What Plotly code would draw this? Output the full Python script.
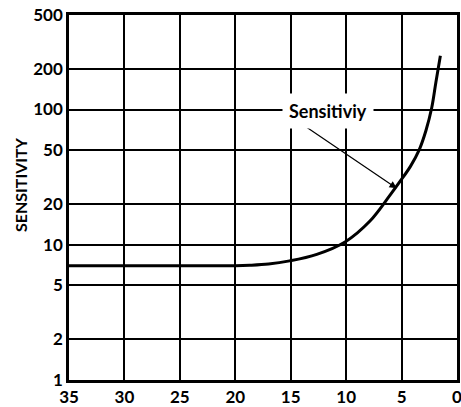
import plotly.graph_objects as go
import numpy as np

# Data
distance = [35, 30, 25, 20, 18.7, 17, 15.1, 12.65, 10.1, 7.85, 6.04, 5.14, 4.2, 3.4, 2.8, 2.28, 1.9, 1.5]
sensitivity = [7, 7, 7, 7, 7.05, 7.2, 7.6, 8.5, 10.5, 15, 23.3, 29.4, 38, 50.6, 70, 103, 160, 250]

x_ticks = [35, 30, 25, 20, 15, 10, 5, 0]
y_ticks = [1, 2, 5, 10, 20, 50, 100, 200, 500]
y_tick_text = ["1", "2", "5", "10", "20", "50", "100", "200", "500"]

FONT = "Lato"
L, R, T, B = 69, 4, 15, 27
W, H = 461, 407
plot_w = W - L - R
plot_h = H - T - B

fig = go.Figure()
fig.add_trace(go.Scatter(
    x=distance, y=sensitivity, mode="lines",
    line=dict(color="black", width=3, shape="spline", smoothing=1.0),
    hoverinfo="skip", showlegend=False,
))

fig.update_xaxes(
    range=[35, 0], tickvals=x_ticks, ticktext=[str(v) for v in x_ticks],
    showgrid=True, gridcolor="black", gridwidth=2,
    showline=True, linecolor="black", linewidth=2.5, mirror=True,
    zeroline=False, ticks="", ticklen=0, automargin=False,
    ticklabelstandoff=0, ticklabeloverflow="allow",
    tickfont=dict(family=FONT, size=17, color="black", weight="bold"),
)
fig.update_yaxes(
    type="log", range=[0, np.log10(500)],
    tickvals=y_ticks, ticktext=y_tick_text,
    showgrid=True, gridcolor="black", gridwidth=2,
    showline=True, linecolor="black", linewidth=2.5, mirror=True,
    zeroline=False, ticks="", ticklen=0, automargin=False,
    ticklabeloverflow="allow",
    tickfont=dict(family=FONT, size=17, color="black", weight="bold"),
)

# Arrow (no text)
fig.add_annotation(
    x=5.44, y=np.log10(26.2), xref="x", yref="y",
    ax=13.9, ay=1.888, axref="x", ayref="y",
    text="", showarrow=True, arrowhead=2, arrowsize=1.2, arrowwidth=1.2,
    arrowcolor="black",
)
# Label
fig.add_annotation(
    x=11.6, y=1.99, xref="x", yref="y",
    text="Sensitiviy", showarrow=False,
    font=dict(family=FONT, size=18, color="black", weight="bold"),
    bgcolor="white", borderpad=6,
)
# Y axis title
fig.add_annotation(
    x=(20 - L) / plot_w, y=(H - B - 185) / plot_h, xref="paper", yref="paper",
    xanchor="center", yanchor="middle",
    text="SENSITIVITY", textangle=-90, showarrow=False,
    font=dict(family=FONT, size=16, color="black", weight="bold"),
)

fig.update_layout(
    width=W, height=H,
    margin=dict(l=L, r=R, t=T, b=B),
    paper_bgcolor="white", plot_bgcolor="white",
)

fig.write_html("out.html", config={"displayModeBar": False},
               post_script="document.body.style.margin='0';document.body.style.overflow='hidden';")
